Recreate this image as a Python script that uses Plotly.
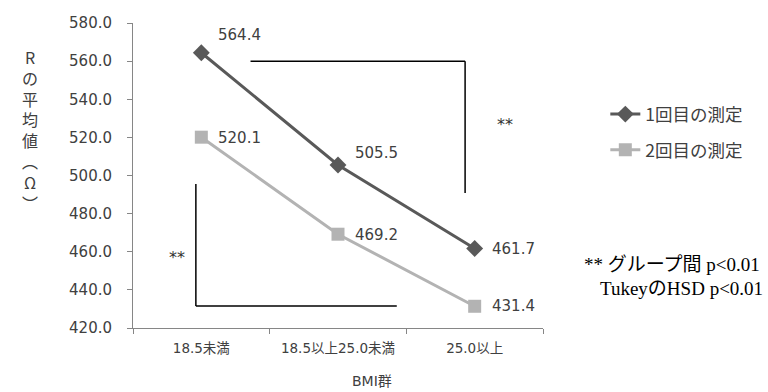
import plotly.graph_objects as go

categories = ["18.5未満", "18.5以上25.0未満", "25.0以上"]
series1_name = "1回目の測定"
series1_values = [564.4, 505.5, 461.7]
series2_name = "2回目の測定"
series2_values = [520.1, 469.2, 431.4]
y_ticks = [420, 440, 460, 480, 500, 520, 540, 560, 580]
x_title = "BMI群"
y_title_chars = ["R", "の", "平", "均", "値", "︵", "Ω", "︶"]
note_lines = ["** グループ間 p<0.01", "TukeyのHSD p<0.01"]

# styling
c1 = "#595959"
c2 = "#b3b3b3"
txt = "#404040"
sans = "DejaVu Sans, Noto Sans CJK JP, sans-serif"
cjk = "Noto Sans CJK JP, sans-serif"
serif = "Liberation Serif, Noto Sans CJK JP, serif"
label_yshift1 = [18, 12, 0]
label_yshift2 = [-1, -1, 0]

fig = go.Figure()
fig.add_trace(go.Scatter(
    x=categories, y=series1_values, name=series1_name, mode="lines+markers",
    line=dict(color=c1, width=3), marker=dict(symbol="diamond", size=13, color=c1),
    legendgroup="a"))
fig.add_trace(go.Scatter(
    x=categories, y=series2_values, name=series2_name, mode="lines+markers",
    line=dict(color=c2, width=3), marker=dict(symbol="square", size=13, color=c2),
    legendgroup="b"))

for vals, shifts in ((series1_values, label_yshift1), (series2_values, label_yshift2)):
    for cat, v, ys in zip(categories, vals, shifts):
        fig.add_annotation(x=cat, y=v, text=f"{v:.1f}", showarrow=False,
                           xanchor="left", xshift=15, yshift=ys,
                           font=dict(family=sans, size=15, color=txt))

# significance brackets
line_style = dict(color="black", width=1.5)
fig.add_shape(type="line", xref="x", yref="y", x0=0.36, x1=1.93, y0=560, y1=560, line=line_style)
fig.add_shape(type="line", xref="x", yref="y", x0=1.93, x1=1.93, y0=560, y1=490.8, line=line_style)
fig.add_shape(type="line", xref="x", yref="y", x0=-0.04, x1=-0.04, y0=495.5, y1=431.5, line=line_style)
fig.add_shape(type="line", xref="x", yref="y", x0=-0.04, x1=1.43, y0=431.5, y1=431.5, line=line_style)
fig.add_annotation(x=2.22, y=527, xref="x", yref="y", text="**", showarrow=False,
                   font=dict(family=sans, size=16, color="#333333"))
fig.add_annotation(x=-0.18, y=457, xref="x", yref="y", text="**", showarrow=False,
                   font=dict(family=sans, size=16, color="#333333"))

# notes
fig.add_annotation(x=1.095, y=0.208, xref="paper", yref="paper", text=note_lines[0],
                   showarrow=False, xanchor="left", yanchor="middle",
                   font=dict(family=serif, size=19, color="black"))
fig.add_annotation(x=1.135, y=0.128, xref="paper", yref="paper", text=note_lines[1],
                   showarrow=False, xanchor="left", yanchor="middle",
                   font=dict(family=serif, size=19, color="black"))

# axis titles
fig.add_annotation(x=-0.2756, y=0.649, xref="paper", yref="paper",
                   text="<br>".join(y_title_chars), showarrow=False,
                   font=dict(family=cjk, size=16, color=txt))
fig.add_annotation(x=0.584, y=-0.175, xref="paper", yref="paper", text=x_title,
                   showarrow=False, yanchor="middle",
                   font=dict(family=sans, size=14, color=txt))

fig.update_layout(
    width=768, height=392,
    margin=dict(l=133, r=225, t=23, b=64),
    paper_bgcolor="white", plot_bgcolor="white",
    showlegend=True,
    legend=dict(x=1.152, y=0.76, xanchor="left", yanchor="top",
                font=dict(family=cjk, size=17.5, color=txt),
                traceorder="grouped", tracegroupgap=10, bgcolor="rgba(0,0,0,0)"),
    xaxis=dict(type="category", range=[-0.5, 2.5], showline=True, linecolor="#868686",
               linewidth=1, ticks="outside", tickson="boundaries", ticklen=5,
               tickcolor="#868686", showgrid=False, zeroline=False,
               ticklabelstandoff=8,
               tickfont=dict(family=sans, size=13.5, color=txt)),
    yaxis=dict(range=[420, 580], tickvals=y_ticks, tickformat=".1f", showline=True,
               linecolor="#868686", linewidth=1, ticks="outside", ticklen=5,
               tickcolor="#868686", showgrid=False, zeroline=False,
               ticklabelstandoff=12,
               tickfont=dict(family=sans, size=15, color=txt)),
)

fig.write_html("out.html")
